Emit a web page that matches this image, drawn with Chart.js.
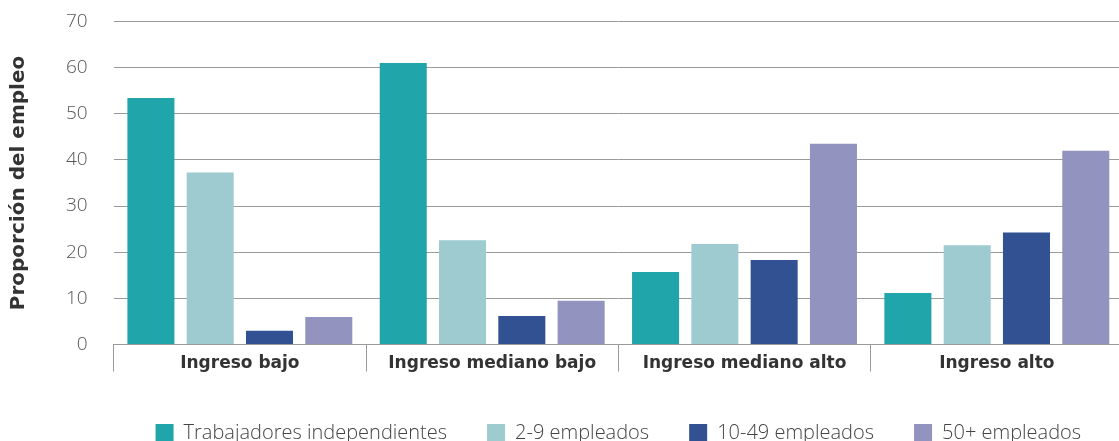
<!DOCTYPE html>
<html>
<head>
<meta charset="utf-8">
<script src="https://cdn.jsdelivr.net/npm/chart.js@4.4.1/dist/chart.umd.min.js"></script>
<style>
html,body{margin:0;padding:0;background:#fff;overflow:hidden;}
#wrap{position:relative;width:1123px;height:453px;}
</style>
</head>
<body>
<div id="wrap"><canvas id="c"></canvas></div>
<script>
const categories = ["Ingreso bajo", "Ingreso mediano bajo", "Ingreso mediano alto", "Ingreso alto"];
const seriesNames = ["Trabajadores independientes", "2-9 empleados", "10-49 empleados", "50+ empleados"];
const independientes = [53.4, 61.0, 15.7, 11.2];
const emp2_9 = [37.3, 22.6, 21.8, 21.5];
const emp10_49 = [3.0, 6.2, 18.3, 24.3];
const emp50 = [6.0, 9.5, 43.5, 42.0];
const colors = ["#20A5AB", "#9DCBD0", "#315192", "#9293BF"];
const yTicks = [0, 10, 20, 30, 40, 50, 60, 70];

const values = [independientes, emp2_9, emp10_49, emp50];
new Chart(document.getElementById('c'), {
  type: 'bar',
  data: {
    labels: categories,
    datasets: values.map((v, i) => ({
      label: seriesNames[i],
      data: v,
      backgroundColor: colors[i],
      categoryPercentage: 0.94,
      barPercentage: 0.793
    }))
  },
  options: {
    responsive: true,
    maintainAspectRatio: false,
    animation: false,
    layout: { padding: { top: 0, right: 0, left: 7, bottom: 0 } },
    plugins: {
      tooltip: { enabled: false },
      legend: {
        position: 'bottom',
        fullSize: false,
        labels: {
          boxWidth: 18, boxHeight: 18, padding: 40,
          color: '#444',
          font: { family: 'Open Sans', size: 20, weight: '300' }
        }
      }
    },
    scales: {
      x: {
        grid: { display: true, offset: true, drawOnChartArea: false, drawTicks: true, tickLength: 27, color: '#9a9a9a', lineWidth: 1 },
        border: { display: true, color: '#9a9a9a' },
        ticks: { color: '#333', padding: -18, autoSkip: false, maxRotation: 0, font: { family: 'DejaVu Sans', size: 17, weight: 'bold' } },
        title: { display: true, text: ' ', padding: { top: 7, bottom: 8 }, font: { size: 10 } }
      },
      y: {
        min: 0, max: 70,
        afterBuildTicks: (axis) => { axis.ticks = yTicks.map(v => ({ value: v })); },
        grid: { color: '#9a9a9a', drawTicks: true, tickLength: 16, tickColor: 'rgba(0,0,0,0)', lineWidth: 1 },
        border: { display: false },
        ticks: { color: '#555', padding: 10, font: { family: 'Open Sans', size: 19, weight: '300' } },
        title: { display: true, text: 'Proporción del empleo', color: '#333', padding: { top: 0, bottom: 25 }, font: { family: 'DejaVu Sans', size: 20, weight: 'bold' } }
      }
    }
  }
});
</script>
</body>
</html>
